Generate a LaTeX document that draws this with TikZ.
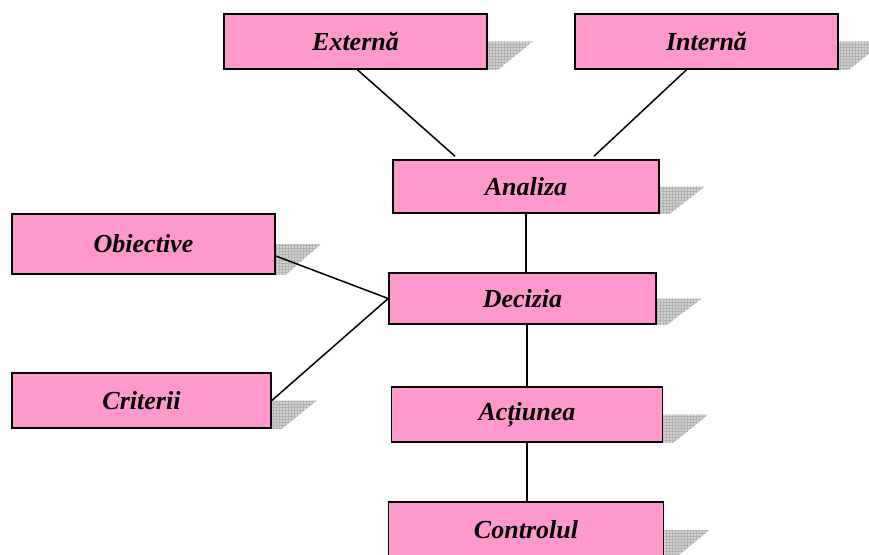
\documentclass[tikz,border=0pt]{standalone}
\usepackage{fontspec}
\setmainfont{Liberation Serif}
\usetikzlibrary{patterns,backgrounds}
\definecolor{boxpink}{HTML}{FF99CC}

\newcommand{\boxshadow}[1]{%
  \fill[gray!35] (#1.east) -- ++(45pt,0) -- ([xshift=10pt]#1.south east)
    -- (#1.south east) -- cycle;
  \fill[pattern=grid,pattern color=gray!60] (#1.east) -- ++(45pt,0)
    -- ([xshift=10pt]#1.south east) -- (#1.south east) -- cycle;}

\begin{document}
\begin{tikzpicture}[x=1pt,y=-1pt,
  b/.style={draw,line width=1.6pt,fill=boxpink,inner sep=0pt,
    font=\fontsize{26}{30}\selectfont\bfseries\itshape},
  l/.style={line width=1.5pt}
]
\useasboundingbox (0,0) rectangle (869,554);

\node[b,minimum width=263pt,minimum height=55pt] (externa) at (355.5,41.5) {Externă};
\node[b,minimum width=263pt,minimum height=55pt] (interna) at (706.5,41.5) {Internă};
\node[b,minimum width=266pt,minimum height=53pt] (analiza) at (526,186.5) {Analiza};
\node[b,minimum width=267pt,minimum height=51pt] (decizia) at (522.5,298.5) {Decizia};
\node[b,minimum width=271pt,minimum height=55pt] (actiunea) at (527,414.5) {Acțiunea};
\node[b,minimum width=275pt,minimum height=56pt] (controlul) at (526,530) {Controlul};
\node[b,minimum width=263pt,minimum height=60pt] (obiective) at (143.5,244) {Obiective};
\node[b,minimum width=259pt,minimum height=55pt] (criterii) at (141.5,400.5) {Criterii};

\begin{scope}[on background layer]
\foreach \n in {externa,interna,analiza,decizia,actiunea,controlul,obiective,criterii}
  {\boxshadow{\n}}
\end{scope}

\draw[l] ([xshift=2pt]externa.south) -- ([xshift=-71pt,yshift=3pt]analiza.north);
\draw[l] ([xshift=-20pt]interna.south) -- ([xshift=68pt,yshift=3pt]analiza.north);
\draw[l] (analiza.south) -- (analiza.south |- decizia.north);
\draw[l] ([yshift=-12pt]obiective.east) -- (decizia.west);
\draw[l] (criterii.east) -- (decizia.west);
\draw[l] (actiunea.north |- decizia.south) -- (actiunea.north);
\draw[l] (actiunea.south) -- (actiunea.south |- controlul.north);
\end{tikzpicture}
\end{document}
